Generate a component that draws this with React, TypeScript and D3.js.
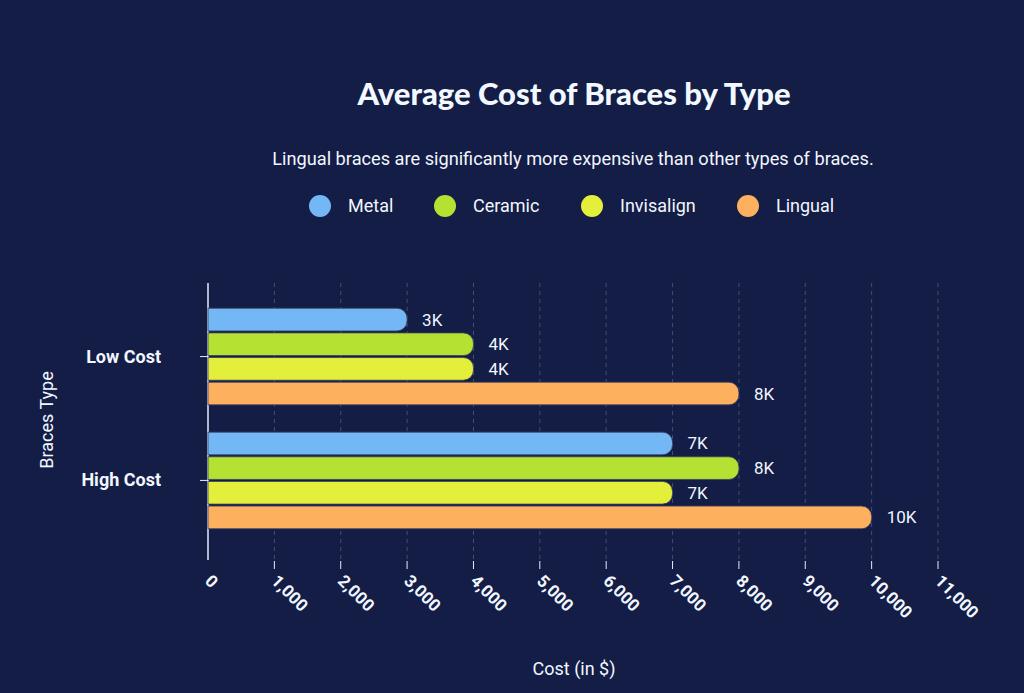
import React, { useEffect, useRef } from "react";
import * as d3 from "d3";

const categories = ["Low Cost", "High Cost"];
const seriesNames = ["Metal", "Ceramic", "Invisalign", "Lingual"];
const seriesColors = ["#74b7f5", "#b5e133", "#e3ef3b", "#fdb15f"];
const metal = [3000, 7000];
const ceramic = [4000, 8000];
const invisalign = [4000, 7000];
const lingual = [8000, 10000];
const xTicks = [0, 1000, 2000, 3000, 4000, 5000, 6000, 7000, 8000, 9000, 10000, 11000];

const W = 1024;
const H = 693;
const BG = "#131d45";

function App() {
  const ref = useRef<SVGSVGElement | null>(null);

  useEffect(() => {
    const svg = d3.select(ref.current);
    svg.selectAll("*").remove();
    const values = [metal, ceramic, invisalign, lingual];

    svg.append("rect").attr("width", W).attr("height", H).attr("fill", BG);

    // title + subtitle
    svg.append("text").attr("x", 574).attr("y", 105).attr("text-anchor", "middle")
      .attr("fill", "#f2f8ff").attr("font-family", "Lato").attr("font-weight", 900)
      .attr("font-size", 31).text("Average Cost of Braces by Type");
    svg.append("text").attr("x", 573).attr("y", 165).attr("text-anchor", "middle")
      .attr("fill", "#f2f6ff").attr("font-family", "Roboto").attr("font-size", 18.2)
      .text("Lingual braces are significantly more expensive than other types of braces.");

    // legend
    const legendX = [320, 445, 592, 748];
    const lg = svg.append("g");
    seriesNames.forEach((name, i) => {
      lg.append("circle").attr("cx", legendX[i]).attr("cy", 206).attr("r", 11).attr("fill", seriesColors[i]);
      lg.append("text").attr("x", legendX[i] + 28).attr("y", 212).attr("fill", "#f2f6ff")
        .attr("font-family", "Roboto").attr("font-size", 18).text(name);
    });

    const x = d3.scaleLinear().domain([0, 11000]).range([208, 938]);
    const y0 = d3.scaleBand<string>().domain(categories).range([281, 556]).padding(0.22);
    const y1 = d3.scaleBand<string>().domain(seriesNames).range([0, y0.bandwidth()]).paddingInner(0.08);

    // grid
    svg.append("g").selectAll("line").data(xTicks.slice(1)).join("line")
      .attr("x1", (d) => x(d)).attr("x2", (d) => x(d))
      .attr("y1", 283).attr("y2", 560)
      .attr("stroke", "#ffffff").attr("stroke-opacity", 0.22)
      .attr("stroke-dasharray", "4,4");

    // x ticks
    svg.append("g").selectAll("line").data(xTicks.slice(1)).join("line")
      .attr("x1", (d) => x(d)).attr("x2", (d) => x(d))
      .attr("y1", 561).attr("y2", 569)
      .attr("stroke", "#e6ecff").attr("stroke-width", 1);

    svg.append("g").selectAll("text").data(xTicks).join("text")
      .attr("transform", (d) => `translate(${x(d) - 4},${582}) rotate(45)`)
      .attr("fill", "#f2f6ff").attr("font-family", "Roboto").attr("font-weight", 700)
      .attr("font-size", 17).text((d) => d3.format(",")(d));

    // y axis
    svg.append("line").attr("x1", 208).attr("x2", 208).attr("y1", 283).attr("y2", 560)
      .attr("stroke", "#e6ecff").attr("stroke-width", 1.5);
    categories.forEach((c) => {
      const cy = (y0(c) as number) + y0.bandwidth() / 2;
      svg.append("line").attr("x1", 200).attr("x2", 208).attr("y1", cy).attr("y2", cy)
        .attr("stroke", "#e6ecff");
      svg.append("text").attr("x", 161).attr("y", cy + 6).attr("text-anchor", "end")
        .attr("fill", "#f2f6ff").attr("font-family", "Roboto").attr("font-weight", 700)
        .attr("font-size", 18).text(c);
    });

    // bars
    const barPath = (x0: number, x1: number, yT: number, h: number) => {
      const r = Math.min(10, h / 2);
      return `M${x0},${yT}H${x1 - r}A${r},${r} 0 0 1 ${x1},${yT + r}V${yT + h - r}A${r},${r} 0 0 1 ${x1 - r},${yT + h}H${x0}Z`;
    };
    const bg = svg.append("g");
    categories.forEach((c, ci) => {
      seriesNames.forEach((s, si) => {
        const v = values[si][ci];
        const yT = (y0(c) as number) + (y1(s) as number);
        const h = y1.bandwidth();
        bg.append("path").attr("d", barPath(x(0), x(v), yT, h))
          .attr("fill", seriesColors[si]).attr("stroke", "#3a4060").attr("stroke-width", 0.8);
        bg.append("text").attr("x", x(v) + 15).attr("y", yT + h / 2 + 6)
          .attr("fill", "#f2f6ff").attr("font-family", "Roboto").attr("font-size", 17)
          .text(`${v / 1000}K`);
      });
    });

    // axis titles
    svg.append("text").attr("x", 574).attr("y", 675).attr("text-anchor", "middle")
      .attr("fill", "#f2f6ff").attr("font-family", "Roboto").attr("font-size", 18).text("Cost (in $)");
    svg.append("text").attr("transform", "translate(53,420) rotate(-90)").attr("text-anchor", "middle")
      .attr("fill", "#f2f6ff").attr("font-family", "Roboto").attr("font-size", 18).text("Braces Type");
  }, []);

  return (
    <svg ref={ref} width={W} height={H}
      style={{ position: "absolute", left: 0, top: 0, display: "block" }} />
  );
}

export default App;
